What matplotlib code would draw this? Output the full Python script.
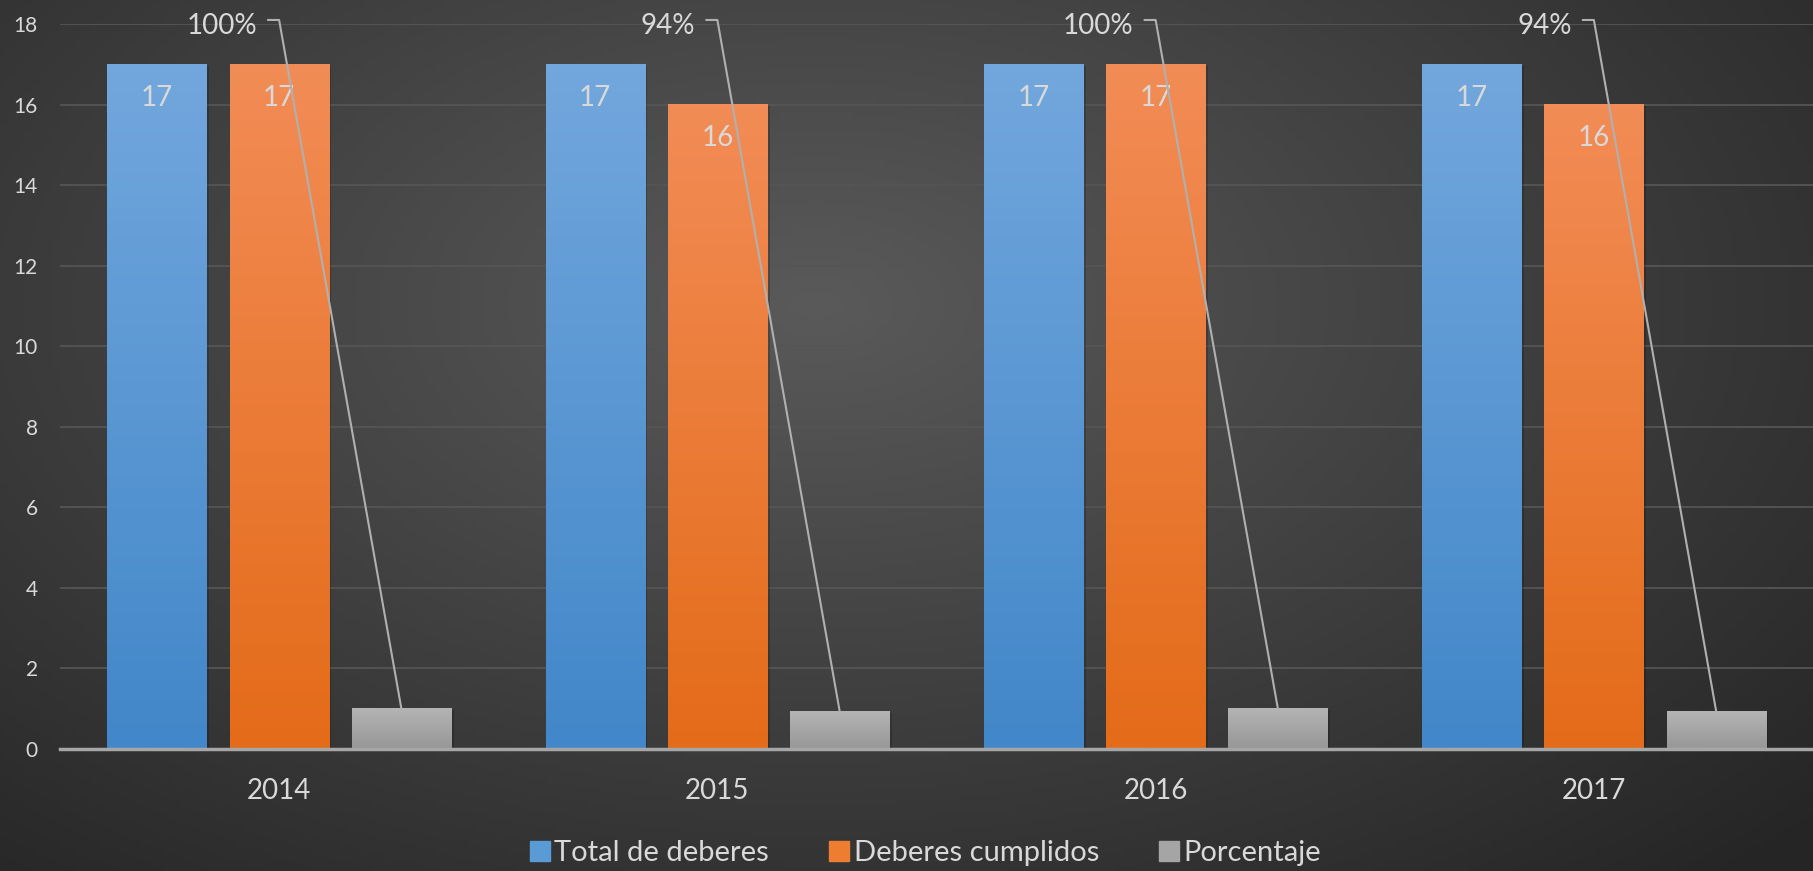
import matplotlib.pyplot as plt
import matplotlib.patheffects as pe
from matplotlib.lines import Line2D
import numpy as np

years = ['2014', '2015', '2016', '2017']
total = [17, 17, 17, 17]
cumplidos = [17, 16, 17, 16]
porcentaje = [1.0, 0.94, 1.0, 0.94]
pct_labels = ['100%', '94%', '100%', '94%']
series_names = ['Total de deberes', 'Deberes cumplidos', 'Porcentaje']

plt.rcParams['font.family'] = ['Lato', 'DejaVu Sans']
txt = '#d9d9d9'

fig = plt.figure(figsize=(18.13, 8.71), dpi=100)

# radial background
bg = fig.add_axes([0, 0, 1, 1], zorder=-10)
gx, gy = np.meshgrid(np.linspace(0, 1, 400), np.linspace(0, 1, 200))
r = np.sqrt(((gx - 0.45) / 0.75) ** 2 + ((gy - 0.35) / 0.9) ** 2)
v = np.clip(r, 0, 1)
c_in, c_out = 0x5a / 255, 0x25 / 255
shade = c_in + (c_out - c_in) * v
bg.imshow(np.dstack([shade] * 3), extent=[0, 1, 0, 1], aspect='auto', origin='upper')
bg.axis('off')

ax = fig.add_axes([60 / 1813, 122 / 871, 1 - 60 / 1813, (749 - 24) / 871])
ax.patch.set_alpha(0)

x = np.arange(len(years))
w = 0.226
step = 0.279

def grad_bars(xs, vals, top, bot):
    bars = ax.bar(xs, vals, w, color=bot, zorder=3,
                  path_effects=[pe.SimplePatchShadow(offset=(2, -1), alpha=0.18, shadow_rgbFace='black'), pe.Normal()])
    g = np.linspace(0, 1, 100)[:, None]
    top_c = np.array(plt.matplotlib.colors.to_rgb(top))
    bot_c = np.array(plt.matplotlib.colors.to_rgb(bot))
    img = top_c[None, None, :] * (1 - g[..., None]) + bot_c[None, None, :] * g[..., None]
    for b in bars:
        ax.imshow(img, extent=[b.get_x(), b.get_x() + b.get_width(), 0, b.get_height()],
                  aspect='auto', origin='upper', zorder=4)
    return bars

b1 = grad_bars(x - step, total, '#72a7dd', '#4287c9')
b2 = grad_bars(x, cumplidos, '#f28c56', '#e46b19')
b3 = grad_bars(x + step, porcentaje, '#b4b4b4', '#979797')

for bars, vals in ((b1, total), (b2, cumplidos)):
    for b, v in zip(bars, vals):
        ax.annotate(str(v), (b.get_x() + b.get_width() / 2, v), xytext=(0, -24),
                    textcoords='offset points', ha='center', va='center',
                    color=txt, fontsize=20, zorder=6)

# percentage labels with leader lines
for i, b in enumerate(b3):
    xb = b.get_x() + b.get_width() / 2
    ax.plot([x[i] - 0.025, x[i], xb], [18.1, 18.1, porcentaje[i]],
            color='#b0b0b0', lw=1.5, zorder=7, clip_on=False)
    ax.text(x[i] - 0.05, 17.95, pct_labels[i], ha='right', va='center',
            color=txt, fontsize=20, zorder=7)

ax.set_xlim(-0.5, 3.5)
ax.set_ylim(0, 18)
ax.set_yticks(np.arange(0, 19, 2))
ax.set_xticks(x)
ax.set_xticklabels(years)
ax.yaxis.grid(True, color='#555555', lw=1.3, zorder=0)
ax.set_axisbelow(True)
ax.tick_params(axis='y', length=0, pad=16, labelsize=15, labelcolor=txt)
ax.tick_params(axis='x', length=0, pad=21, labelsize=20, labelcolor=txt)
for s in ['left', 'right', 'top']:
    ax.spines[s].set_visible(False)
ax.spines['bottom'].set_color('#a6a6a6')
ax.spines['bottom'].set_linewidth(2.5)
ax.spines['bottom'].set_zorder(8)

handles = [Line2D([], [], marker='s', ls='none', markersize=15, color=c)
           for c in ['#5b9bd5', '#ed7d31', '#a5a5a5']]
leg = fig.legend(handles, series_names, loc='center', bbox_to_anchor=(0.51, 0.021),
                 ncol=3, frameon=False, fontsize=21, labelcolor=txt,
                 handletextpad=0.1, columnspacing=2.0, handlelength=0.8)

fig.savefig('out.png', dpi=100)
